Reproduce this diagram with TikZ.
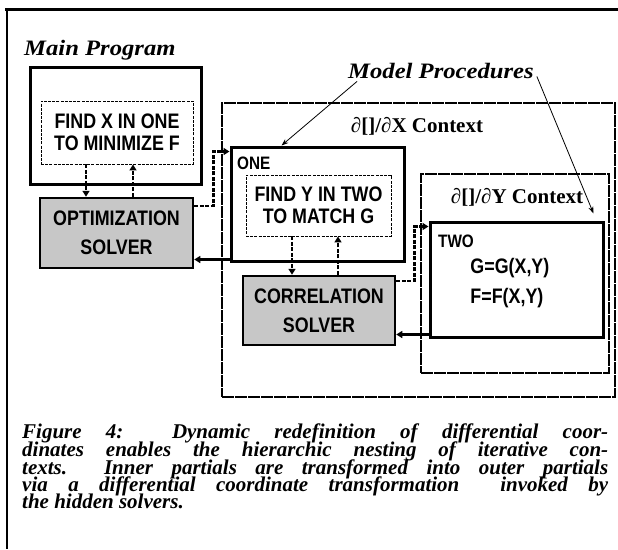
\documentclass[tikz,border=0pt]{standalone}
\usepackage{fontspec}
\setmainfont{Liberation Serif}
\newfontfamily\capfont[FakeStretch=1.12]{Liberation Serif}
\newfontfamily\boxfont[FakeStretch=0.85]{Liberation Sans}
\usetikzlibrary{arrows.meta,positioning}

\begin{document}
\begin{tikzpicture}[
    x=1pt, y=-1pt,
    frame/.style={line width=3pt},
    prog/.style={draw, line width=3pt, inner sep=0pt},
    task/.style={draw, line width=0.9pt, dash pattern=on 3pt off 1.2pt, inner sep=0pt, align=center,
      font=\boxfont\bfseries\fontsize{21}{22}\selectfont},
    solver/.style={draw, line width=2.5pt, fill=black!22, inner sep=0pt, align=center,
      font=\boxfont\bfseries\fontsize{21}{29}\selectfont},
    context/.style={draw, line width=1.5pt, dash pattern=on 12pt off 1pt, inner sep=0pt},
    ctxlabel/.style={inner sep=1pt, font=\bfseries\fontsize{21}{24}\selectfont},
    tag/.style={inner sep=0pt, font=\boxfont\bfseries\fontsize{18}{20}\selectfont},
    note/.style={inner sep=1pt, font=\capfont\bfseries\itshape\fontsize{22}{24}\selectfont},
    capline/.style={inner sep=0pt, anchor=base west, text height=12pt, text depth=4pt,
      font=\bfseries\itshape\fontsize{21}{18}\selectfont},
    dlink/.style={line width=2.5pt, dash pattern=on 4pt off 1.5pt, -{Triangle[length=6pt,width=7pt]}},
    slink/.style={line width=2.5pt, -{Triangle[length=6pt,width=7pt]}},
    pointer/.style={line width=0.8pt, -{Stealth[length=7pt,width=5pt]}}
  ]
    \useasboundingbox (0,0) rectangle (618,549);
    % page frame
    \draw[frame] (5,9) -- (618,9);
    \draw[line width=2pt] (7,9) -- (7,549);
    % contexts
    \node[context, minimum width=393pt, minimum height=294pt] (ctxx) at (418.5,250) {};
    \node[context, minimum width=188pt, minimum height=199pt] (ctxy) at (515,273.5) {};
    \node[ctxlabel, anchor=base] (ctxxlbl) at (417,132) {∂[]/∂X Context};
    \node[ctxlabel, anchor=base] (ctxylbl) at (517,203) {∂[]/∂Y Context};
    % main program
    \node[note, anchor=base west] (mainlbl) at (23,55) {Main Program};
    \node[prog, minimum width=171pt, minimum height=117pt] (main) at (115.5,125.5) {};
    \node[task, minimum width=152pt, minimum height=63pt] (findx) at (117,132.5) {FIND X IN ONE\\TO MINIMIZE F};
    \node[solver, minimum width=153pt, minimum height=70pt] (opt) at (116.5,233) {OPTIMIZATION\\SOLVER};
    % model procedure ONE
    \node[prog, minimum width=173pt, minimum height=114pt] (one) at (317.5,204) {};
    \node[tag, anchor=base west] (onelbl) at (237,169) {ONE};
    \node[task, minimum width=145pt, minimum height=61pt] (findy) at (318.5,205.5) {FIND Y IN TWO\\TO MATCH G};
    \node[solver, minimum width=152pt, minimum height=69pt] (corr) at (319,310.5) {CORRELATION\\SOLVER};
    % model procedure TWO
    \node[prog, minimum width=173pt, minimum height=115pt] (two) at (516.5,279.5) {};
    \node[tag, anchor=base west] (twolbl) at (438,247) {TWO};
    \node[task, draw=none, anchor=base west, align=left, font=\boxfont\bfseries\fontsize{21}{30}\selectfont] (eqs) at (470,303) {G=G(X,Y)\\F=F(X,Y)};
    % links
    \draw[dlink] ([xshift=-31pt]findx.south) -- ([xshift=-31pt]findx.south |- opt.north);
    \draw[dlink] ([xshift=16pt]findx.south |- opt.north) -- ([xshift=16pt]findx.south);
    \draw[dlink] ([xshift=-26.5pt]findy.south) -- ([xshift=-26.5pt]findy.south |- corr.north);
    \draw[dlink] ([xshift=19.5pt]findy.south |- corr.north) -- ([xshift=19.5pt]findy.south);
    \draw[dlink] ([yshift=-9pt]opt.north east) -- ++(19,0) |- ([yshift=-6pt]one.north west);
    \coordinate (oneout) at ([yshift=3pt]one.south west);
    \draw[slink] (oneout) -- (oneout -| opt.east);
    \draw[dlink] ([yshift=-6pt]corr.north east) -- ++(18,0) |- ([yshift=-6pt]two.north west);
    \coordinate (twoout) at ([yshift=4pt]two.south west);
    \draw[slink] (twoout) -- (twoout -| corr.east);
    % model procedures
    \node[note, anchor=base west] (modproc) at (347,78) {Model Procedures};
    \draw[pointer] ([xshift=10pt,yshift=-2pt]modproc.south west) -- ([xshift=52pt]one.north west);
    \draw[pointer] ([xshift=2pt,yshift=3pt]modproc.south east) -- ([xshift=-11pt,yshift=7pt]two.north east);
    % caption
    \node[capline] (cap1) at (22,438) {\makebox[586pt][s]{Figure 4:\ \ Dynamic redefinition of differential coor-}};
    \node[capline] (cap2) at (22,456) {\makebox[586pt][s]{dinates enables the hierarchic nesting of iterative con-}};
    \node[capline] (cap3) at (22,474) {\makebox[586pt][s]{texts.\ \ Inner partials are transformed into outer partials}};
    \node[capline] (cap4) at (22,491) {\makebox[586pt][s]{via a differential coordinate transformation\ \ invoked by}};
    \node[capline] (cap5) at (22,508) {the hidden solvers.};
\end{tikzpicture}
\end{document}
